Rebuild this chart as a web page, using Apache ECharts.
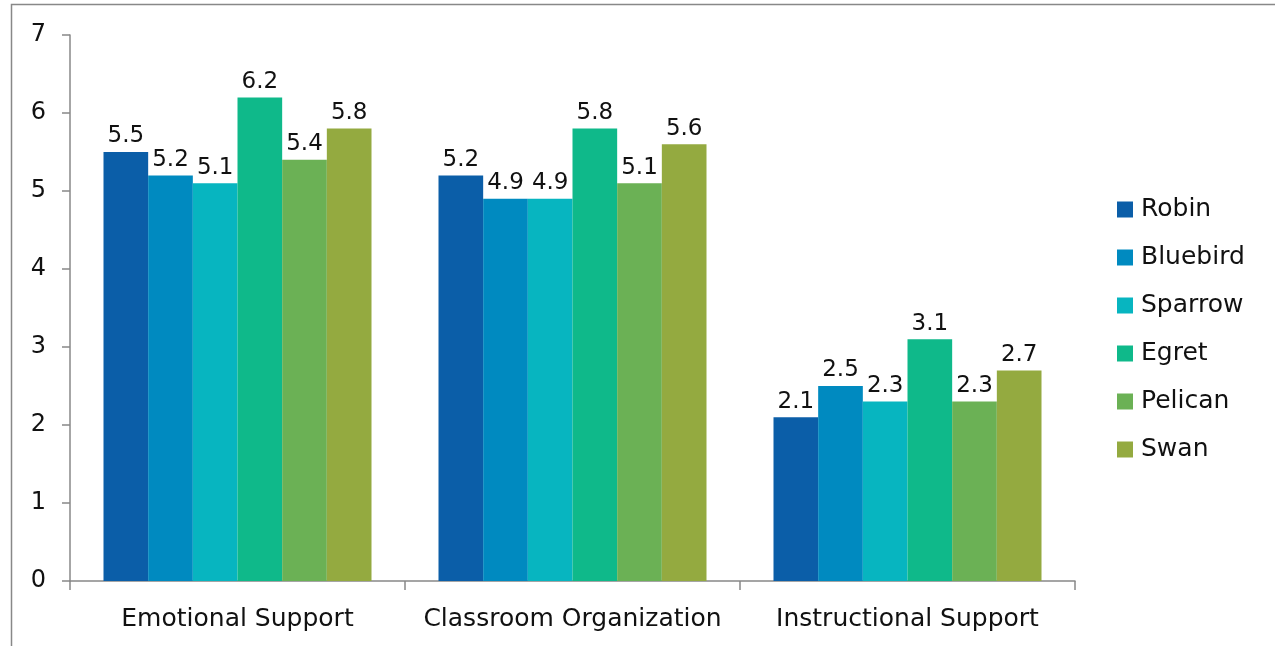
<!DOCTYPE html>
<html><head><meta charset="utf-8">
<script src="https://cdn.jsdelivr.net/npm/echarts@6/dist/echarts.min.js"></script>
<style>html,body{margin:0;padding:0;background:#fff}#c{width:1275px;height:646px}</style>
</head><body><div id="c"></div>
<script>
const categories = ['Emotional Support', 'Classroom Organization', 'Instructional Support'];
const seriesNames = ['Robin', 'Bluebird', 'Sparrow', 'Egret', 'Pelican', 'Swan'];
const robin = [5.5, 5.2, 2.1];
const bluebird = [5.2, 4.9, 2.5];
const sparrow = [5.1, 4.9, 2.3];
const egret = [6.2, 5.8, 3.1];
const pelican = [5.4, 5.1, 2.3];
const swan = [5.8, 5.6, 2.7];
const yTicks = [0, 1, 2, 3, 4, 5, 6, 7];

const values = [robin, bluebird, sparrow, egret, pelican, swan];
const colors = ['#0B5EA8', '#008AC0', '#07B5C0', '#0FB98A', '#6BB155', '#94AA40'];
const font = 'DejaVu Sans';

const chart = echarts.init(document.getElementById('c'));
chart.setOption({
  animation: false,
  textStyle: { fontFamily: font },
  graphic: [{
    type: 'rect', shape: { x: 11.5, y: 4.5, width: 1300, height: 700 },
    style: { fill: 'none', stroke: '#888', lineWidth: 1.5 }, silent: true
  }],
  grid: { left: 70, right: 200, top: 35, bottom: 65 },
  legend: {
    orient: 'vertical', left: 1112, top: 192,
    itemWidth: 16, itemHeight: 16, itemGap: 23,
    icon: 'rect',
    textStyle: { fontFamily: font, fontSize: 25, color: '#111', padding: [0, 0, 0, 3] },
    data: seriesNames
  },
  xAxis: {
    type: 'category', data: categories,
    axisLine: { lineStyle: { color: '#888', width: 1.5 } },
    axisTick: { show: true, length: 9, lineStyle: { color: '#888', width: 1.5 } },
    axisLabel: { fontFamily: font, fontSize: 25, color: '#111', margin: 26, interval: 0 }
  },
  yAxis: {
    type: 'value', min: yTicks[0], max: yTicks[yTicks.length - 1], interval: 1,
    splitLine: { show: false },
    axisLine: { show: true, lineStyle: { color: '#888', width: 1.5 } },
    axisTick: { show: true, inside: false, length: 8, lineStyle: { color: '#888', width: 1.5 } },
    axisLabel: { fontFamily: font, fontSize: 24, color: '#111', margin: 24 }
  },
  series: seriesNames.map((n, i) => ({
    name: n, type: 'bar', data: values[i],
    barGap: '0%', barCategoryGap: '20%',
    itemStyle: { color: colors[i] },
    label: { show: true, position: 'top', fontFamily: font, fontSize: 23, color: '#111', distance: 4,
      formatter: p => p.value.toFixed(1) }
  }))
});
</script></body></html>
